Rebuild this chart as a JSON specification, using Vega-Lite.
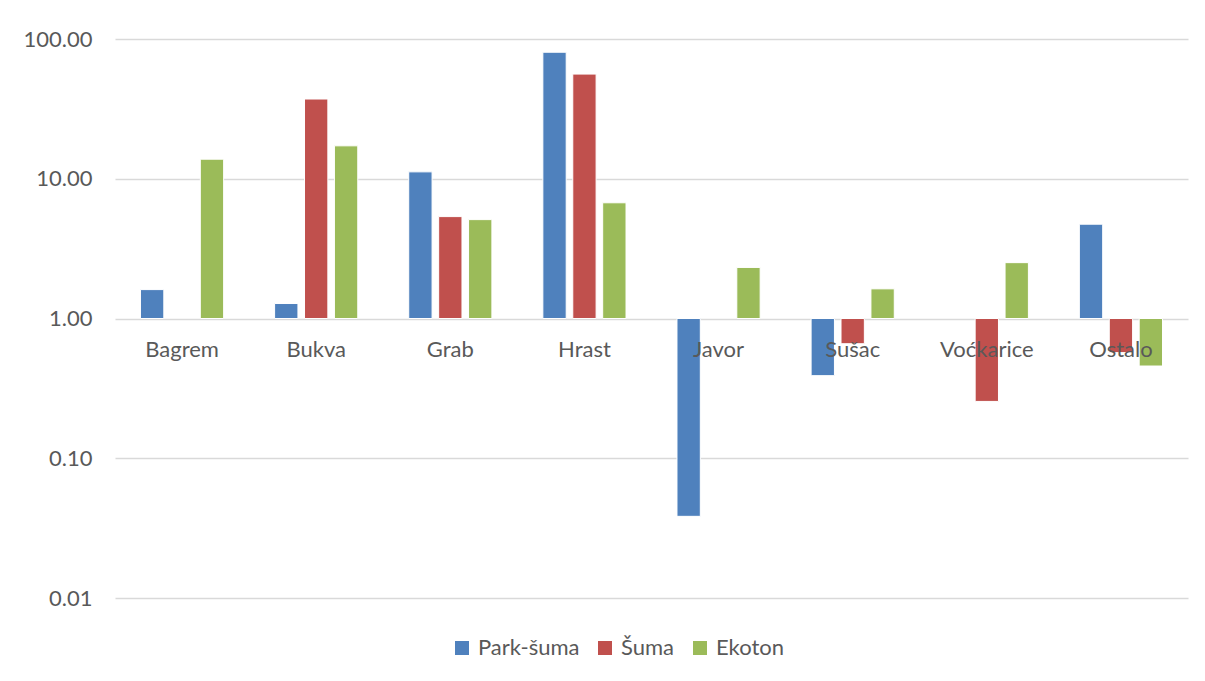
{
  "$schema": "https://vega.github.io/schema/vega-lite/v6.json",
  "autosize": "none",
  "width": 1073,
  "height": 559,
  "padding": {"left": 115, "top": 39, "right": 17, "bottom": 83},
  "background": "white",
  "config": {
    "view": {"stroke": null},
    "font": "Lato",
    "text": {"font": "Lato"}
  },
  "datasets": {
    "bars": [
      {"vrsta": "Bagrem", "stanište": "Park-šuma", "vrijednost": 1.61},
      {"vrsta": "Bagrem", "stanište": "Ekoton", "vrijednost": 13.8},
      {"vrsta": "Bukva", "stanište": "Park-šuma", "vrijednost": 1.28},
      {"vrsta": "Bukva", "stanište": "Šuma", "vrijednost": 37.2},
      {"vrsta": "Bukva", "stanište": "Ekoton", "vrijednost": 17.2},
      {"vrsta": "Grab", "stanište": "Park-šuma", "vrijednost": 11.2},
      {"vrsta": "Grab", "stanište": "Šuma", "vrijednost": 5.36},
      {"vrsta": "Grab", "stanište": "Ekoton", "vrijednost": 5.1},
      {"vrsta": "Hrast", "stanište": "Park-šuma", "vrijednost": 80.4},
      {"vrsta": "Hrast", "stanište": "Šuma", "vrijednost": 56.1},
      {"vrsta": "Hrast", "stanište": "Ekoton", "vrijednost": 6.73},
      {"vrsta": "Javor", "stanište": "Park-šuma", "vrijednost": 0.0384},
      {"vrsta": "Javor", "stanište": "Ekoton", "vrijednost": 2.32},
      {"vrsta": "Sušac", "stanište": "Park-šuma", "vrijednost": 0.39},
      {"vrsta": "Sušac", "stanište": "Šuma", "vrijednost": 0.66},
      {"vrsta": "Sušac", "stanište": "Ekoton", "vrijednost": 1.63},
      {"vrsta": "Voćkarice", "stanište": "Šuma", "vrijednost": 0.255},
      {"vrsta": "Voćkarice", "stanište": "Ekoton", "vrijednost": 2.51},
      {"vrsta": "Ostalo", "stanište": "Park-šuma", "vrijednost": 4.73},
      {"vrsta": "Ostalo", "stanište": "Šuma", "vrijednost": 0.57},
      {"vrsta": "Ostalo", "stanište": "Ekoton", "vrijednost": 0.457}
    ],
    "cats": [
      {"vrsta": "Bagrem"}, {"vrsta": "Bukva"}, {"vrsta": "Grab"}, {"vrsta": "Hrast"},
      {"vrsta": "Javor"}, {"vrsta": "Sušac"}, {"vrsta": "Voćkarice"}, {"vrsta": "Ostalo"}
    ]
  },
  "layer": [
    {
      "data": {"name": "bars"},
      "mark": {"type": "bar", "stroke": "white", "strokeWidth": 1},
      "encoding": {
        "x": {
          "field": "vrsta", "type": "nominal",
          "sort": ["Bagrem", "Bukva", "Grab", "Hrast", "Javor", "Sušac", "Voćkarice", "Ostalo"],
          "scale": {"paddingInner": 0.38, "paddingOuter": 0.19},
          "axis": null
        },
        "xOffset": {
          "field": "stanište", "type": "nominal",
          "sort": ["Park-šuma", "Šuma", "Ekoton"],
          "scale": {"paddingInner": 0.22, "paddingOuter": 0}
        },
        "y": {
          "field": "vrijednost", "type": "quantitative",
          "scale": {"type": "log", "domain": [0.01, 100], "nice": false},
          "axis": {
            "title": null,
            "values": [0.01, 0.1, 1, 10, 100],
            "format": ".2f",
            "domain": false,
            "ticks": false,
            "labelPadding": 23,
            "labelFontSize": 22,
            "labelColor": "#595959",
            "labelFont": "Lato",
            "gridColor": "#d9d9d9",
            "gridWidth": 1.3
          }
        },
        "y2": {"datum": 1},
        "color": {
          "field": "stanište", "type": "nominal",
          "sort": ["Park-šuma", "Šuma", "Ekoton"],
          "scale": {"domain": ["Park-šuma", "Šuma", "Ekoton"], "range": ["#4f81bd", "#c0504d", "#9bbb59"]},
          "legend": {
            "title": null,
            "orient": "none",
            "legendX": 336,
            "legendY": 598,
            "direction": "horizontal",
            "symbolType": "square",
            "symbolSize": 196,
            "symbolStrokeWidth": 0,
            "labelFontSize": 22,
            "labelFont": "Lato",
            "labelColor": "#595959",
            "labelOffset": 5,
            "columnPadding": 14,
            "padding": 0
          }
        }
      }
    },
    {
      "data": {"name": "cats"},
      "mark": {"type": "text", "fontSize": 22, "color": "#595959", "baseline": "alphabetic", "dy": 38, "font": "Lato"},
      "encoding": {
        "x": {
          "field": "vrsta", "type": "nominal",
          "sort": ["Bagrem", "Bukva", "Grab", "Hrast", "Javor", "Sušac", "Voćkarice", "Ostalo"]
        },
        "y": {"datum": 1},
        "text": {"field": "vrsta"}
      }
    }
  ]
}
